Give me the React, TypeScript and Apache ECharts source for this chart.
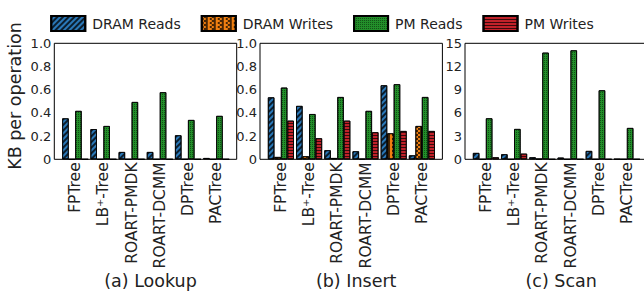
import React, { useEffect, useRef } from "react";
import * as echarts from "echarts";

const categories = ["FPTree", "LB⁺-Tree", "ROART-PMDK", "ROART-DCMM", "DPTree", "PACTree"];
const seriesNames = ["DRAM Reads", "DRAM Writes", "PM Reads", "PM Writes"];

// (a) Lookup
const lookupDramReads = [0.353, 0.26, 0.063, 0.063, 0.207, 0.011];
const lookupDramWrites = [0, 0, 0, 0, 0, 0];
const lookupPmReads = [0.417, 0.287, 0.494, 0.578, 0.339, 0.374];
const lookupPmWrites = [0, 0, 0, 0, 0, 0];

// (b) Insert
const insertDramReads = [0.534, 0.46, 0.078, 0.069, 0.638, 0.034];
const insertDramWrites = [0.02, 0.026, 0.011, 0.003, 0.224, 0.287];
const insertPmReads = [0.618, 0.39, 0.537, 0.417, 0.647, 0.537];
const insertPmWrites = [0.333, 0.181, 0.333, 0.233, 0.244, 0.244];

// (c) Scan
const scanDramReads = [0.82, 0.65, 0.26, 0.22, 1.08, 0.02];
const scanDramWrites = [0, 0, 0.05, 0, 0, 0];
const scanPmReads = [5.3, 3.92, 13.79, 14.09, 8.92, 4.05];
const scanPmWrites = [0.26, 0.73, 0, 0, 0, 0];

const panelTitles = ["(a) Lookup", "(b) Insert", "(c) Scan"];
const panelMax = [1, 1, 15];
const panelInterval = [0.2, 0.2, 3];

const FONT = "DejaVu Sans";

const colors = ["#2a78b8", "#f07f10", "#23902a", "#c0222a"];
const decals: any[] = [
  { symbol: "rect", symbolSize: 1, dashArrayX: [1, 0], dashArrayY: [1.5, 2], rotation: -Math.PI / 4, color: "rgba(0,0,0,0.75)" },
  { symbol: "rect", symbolSize: 1, dashArrayX: [[2, 2], [0, 2, 2]], dashArrayY: [2, 0], rotation: 0, color: "rgba(0,0,0,0.7)" },
  { symbol: "rect", symbolSize: 1, dashArrayX: [1, 1], dashArrayY: [1, 1], rotation: 0, color: "rgba(0,0,0,0.45)" },
  { symbol: "rect", symbolSize: 1, dashArrayX: [1, 0], dashArrayY: [1, 2], rotation: 0, color: "rgba(0,0,0,0.7)" },
];

const panelData = [
  [lookupDramReads, lookupDramWrites, lookupPmReads, lookupPmWrites],
  [insertDramReads, insertDramWrites, insertPmReads, insertPmWrites],
  [scanDramReads, scanDramWrites, scanPmReads, scanPmWrites],
];

const frameLefts = [54.3, 260, 465];
const frameWidth = 182.4;
const frameTop = 43.3;
const frameHeight = 116;
const innerOffset = 6.8;
const innerWidth = 169.2;

export default function App() {
  const ref = useRef<HTMLDivElement>(null);
  useEffect(() => {
    if (!ref.current) return;
    const chart = echarts.init(ref.current, undefined, { renderer: "svg" });
    const grids: any[] = [];
    const xAxes: any[] = [];
    const yAxes: any[] = [];
    const series: any[] = [];
    const titles: any[] = [];
    const graphics: any[] = [];
    for (let p = 0; p < 3; p++) {
      grids.push({
        left: frameLefts[p] + innerOffset,
        top: frameTop,
        width: innerWidth,
        height: frameHeight,
      });
      xAxes.push({
        type: "category",
        gridIndex: p,
        data: categories,
        boundaryGap: true,
        axisLine: { show: false },
        axisTick: { show: false },
        axisLabel: {
          rotate: 90,
          interval: 0,
          margin: 3,
          fontSize: 15.5,
          fontFamily: FONT,
          color: "#222",
          padding: [0, 0, 6, 0],
        },
      });
      yAxes.push({
        type: "value",
        gridIndex: p,
        min: 0,
        max: panelMax[p],
        interval: panelInterval[p],
        splitLine: { show: false },
        axisLine: { show: false },
        axisTick: { show: false },
        axisLabel: {
          margin: innerOffset + 3,
          fontSize: 13,
          fontFamily: FONT,
          color: "#222",
          formatter: (v: number) => (p < 2 ? (v === 0 ? "0" : v.toFixed(1)) : String(v)),
        },
      });
      for (let s = 0; s < 4; s++) {
        series.push({
          type: "bar",
          name: seriesNames[s],
          xAxisIndex: p,
          yAxisIndex: p,
          data: panelData[p][s],
          barWidth: 6.5,
          barGap: "0%",
          itemStyle: {
            color: colors[s],
            borderColor: "#000",
            borderWidth: 0.8,
            decal: decals[s],
          },
        });
      }
      titles.push({
        text: panelTitles[p],
        left: frameLefts[p] + frameWidth / 2,
        top: 267,
        textAlign: "center",
        textStyle: { fontSize: 17.5, fontWeight: "normal", fontFamily: FONT, color: "#222" },
      });
      graphics.push({
        type: "rect",
        shape: { x: frameLefts[p], y: frameTop, width: frameWidth, height: frameHeight },
        style: { fill: "none", stroke: "#000", lineWidth: 1 },
        z: 10,
      });
    }
    graphics.push({
      type: "text",
      x: 15,
      y: 96,
      rotation: Math.PI / 2,
      style: {
        text: "KB per operation",
        fontSize: 17.5,
        fontFamily: FONT,
        fill: "#222",
        textAlign: "center",
        textVerticalAlign: "middle",
      },
    });
    chart.setOption({
      animation: false,
      aria: { enabled: false, decal: { show: true } },
      backgroundColor: "#fff",
      title: titles,
      legend: {
        data: seriesNames,
        left: "center",
        top: 10,
        icon: "rect",
        itemWidth: 34,
        itemHeight: 15,
        itemGap: 20,
        textStyle: { fontSize: 14, fontFamily: FONT, color: "#222", padding: [0, 0, 0, 2] },
      },
      grid: grids,
      xAxis: xAxes,
      yAxis: yAxes,
      series,
      graphic: graphics,
    });
    return () => chart.dispose();
  }, []);
  return <div ref={ref} style={{ width: 644, height: 296, position: "absolute", left: 0, top: 0 }} />;
}
